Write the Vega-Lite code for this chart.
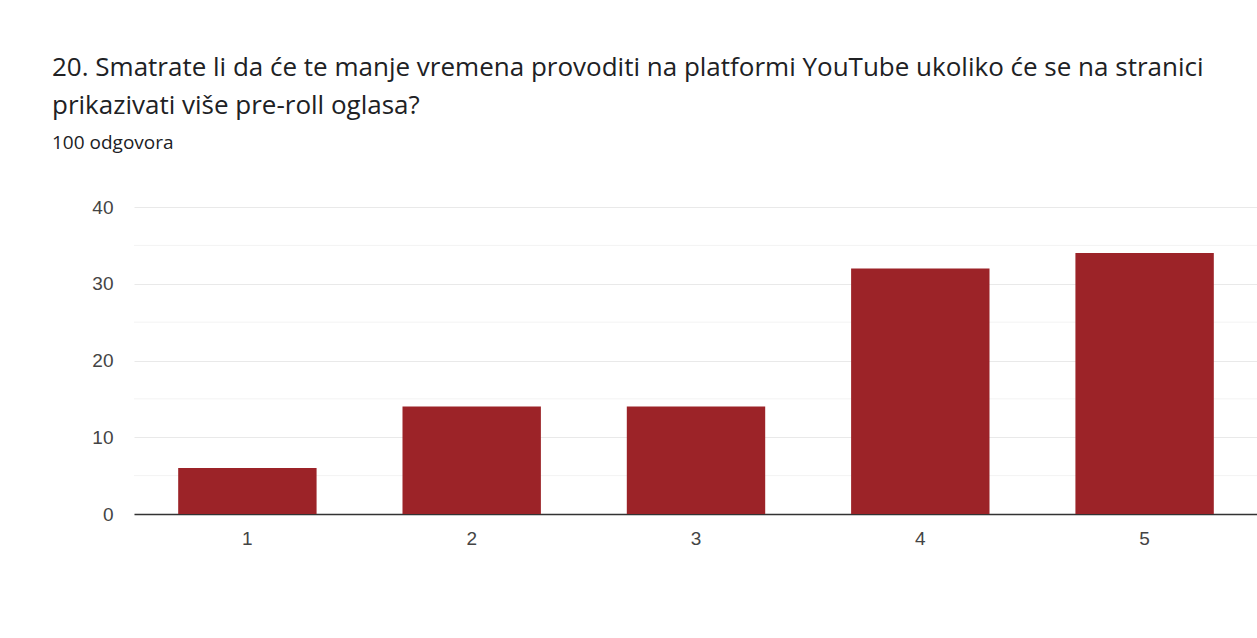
{
  "$schema": "https://vega.github.io/schema/vega-lite/v6.json",
  "autosize": "none",
  "padding": {"left": 134, "top": 207, "right": 0, "bottom": 124},
  "width": 1124,
  "height": 307,
  "background": "white",
  "title": {
    "text": ["20. Smatrate li da će te manje vremena provoditi na platformi YouTube ukoliko će se na stranici", "prikazivati više pre-roll oglasa?"],
    "subtitle": "100 odgovora",
    "anchor": "start",
    "frame": "group",
    "dx": -82,
    "offset": 45,
    "font": "Open Sans",
    "fontSize": 26,
    "fontWeight": "normal",
    "color": "#202124",
    "lineHeight": 38,
    "subtitleFont": "Open Sans",
    "subtitleFontSize": 19,
    "subtitleColor": "#202124",
    "subtitlePadding": 15
  },
  "data": {
    "values": [
      {"ocjena": "1", "broj": 6},
      {"ocjena": "2", "broj": 14},
      {"ocjena": "3", "broj": 14},
      {"ocjena": "4", "broj": 32},
      {"ocjena": "5", "broj": 34}
    ]
  },
  "layer": [
    {
      "mark": {"type": "rule", "color": "#f3f3f3", "strokeWidth": 1},
      "data": {"values": [{"v": 5}, {"v": 15}, {"v": 25}, {"v": 35}]},
      "encoding": {
        "y": {
          "field": "v",
          "type": "quantitative",
          "scale": {"domain": [0, 40], "nice": false},
          "axis": {
            "title": null,
            "values": [0, 10, 20, 30, 40],
            "labelFont": "Liberation Sans",
            "labelFontSize": 19,
            "labelColor": "#444444",
            "labelPadding": 21,
            "ticks": false,
            "domain": false,
            "grid": true,
            "gridColor": "#e9e9e9",
            "gridWidth": 1.2
          }
        }
      }
    },
    {
      "mark": {"type": "bar", "color": "#9C2328"},
      "encoding": {
        "x": {
          "field": "ocjena",
          "type": "nominal",
          "sort": null,
          "scale": {"paddingInner": 0.383, "paddingOuter": 0.197},
          "axis": {
            "title": null,
            "labelAngle": 0,
            "labelFont": "Liberation Sans",
            "labelFontSize": 19,
            "labelColor": "#444444",
            "labelPadding": 15,
            "ticks": false,
            "domain": true,
            "domainColor": "#333333",
            "domainWidth": 1.5,
            "grid": false
          }
        },
        "y": {
          "field": "broj",
          "type": "quantitative",
          "scale": {"domain": [0, 40], "nice": false},
          "axis": {
            "title": null,
            "values": [0, 10, 20, 30, 40],
            "labelFont": "Liberation Sans",
            "labelFontSize": 19,
            "labelColor": "#444444",
            "labelPadding": 21,
            "ticks": false,
            "domain": false,
            "grid": true,
            "gridColor": "#e9e9e9",
            "gridWidth": 1.2
          }
        }
      }
    }
  ],
  "config": {"view": {"stroke": null}}
}
